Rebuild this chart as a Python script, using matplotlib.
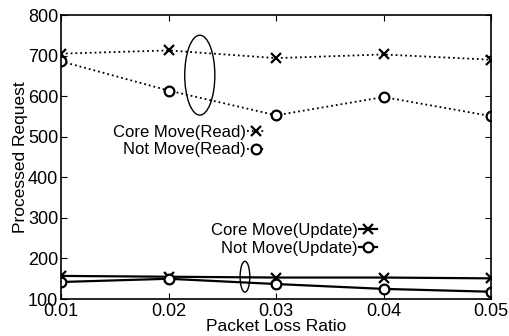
import matplotlib.pyplot as plt
from matplotlib.patches import Ellipse
from matplotlib.lines import Line2D

plt.rcParams['font.family'] = ['Liberation Sans', 'DejaVu Sans']

# data
loss_ratio = [0.01, 0.02, 0.03, 0.04, 0.05]
core_move_read = [705, 713, 694, 703, 690]
not_move_read = [686, 614, 553, 598, 551]
core_move_update = [157, 155, 153, 153, 151]
not_move_update = [142, 150, 137, 125, 118]

fig = plt.figure(figsize=(5.09, 3.36), dpi=100)
ax = fig.add_axes([0.12, 0.11, 0.845, 0.845])

ax.plot(loss_ratio, core_move_read, color='black', ls=':', lw=1.3,
        marker='x', ms=7, mew=1.6)
ax.plot(loss_ratio, not_move_read, color='black', ls=':', lw=1.3,
        marker='o', ms=7, mfc='white', mew=1.6)
ax.plot(loss_ratio, core_move_update, color='black', ls='-', lw=1.6,
        marker='x', ms=7, mew=1.6)
ax.plot(loss_ratio, not_move_update, color='black', ls='-', lw=1.6,
        marker='o', ms=7, mfc='white', mew=1.6)

# circled groups
ax.add_patch(Ellipse((0.0229, 652), 0.0028, 197, fill=False, ec='black', lw=1.0))
ax.add_patch(Ellipse((0.0271, 155), 0.0009, 76, fill=False, ec='black', lw=1.0))

# in-plot legends, label then sample
read_handles = [
    Line2D([], [], color='black', ls=':', lw=1.3, marker='x', ms=7, mew=1.6),
    Line2D([], [], color='black', ls=':', lw=1.3, marker='o', ms=7, mfc='white', mew=1.6),
]
leg1 = ax.legend(read_handles, ['Core Move(Read)', 'Not Move(Read)'],
                 loc='center right', bbox_to_anchor=(0.495, 0.556),
                 frameon=False, markerfirst=False, fontsize=12,
                 handlelength=1.1, handletextpad=0.1, borderpad=0,
                 labelspacing=0.15, numpoints=1)
ax.add_artist(leg1)

update_handles = [
    Line2D([], [], color='black', ls='-', lw=1.6, marker='x', ms=7, mew=1.6),
    Line2D([], [], color='black', ls='-', lw=1.6, marker='o', ms=7, mfc='white', mew=1.6),
]
ax.legend(update_handles, ['Core Move(Update)', 'Not Move(Update)'],
          loc='center right', bbox_to_anchor=(0.755, 0.21),
          frameon=False, markerfirst=False, fontsize=12,
          handlelength=1.1, handletextpad=0.1, borderpad=0,
          labelspacing=0.15, numpoints=1)

ax.set_xlim(0.01, 0.05)
ax.set_ylim(100, 800)
ax.set_xticks(loss_ratio)
ax.set_xticklabels(['0.01', '0.02', '0.03', '0.04', '0.05'])
ax.set_yticks(range(100, 801, 100))
ax.tick_params(direction='in', top=True, right=True, labelsize=13, length=4, pad=2)
ax.tick_params(axis='x', pad=3)
for s in ax.spines.values():
    s.set_linewidth(1.2)

ax.set_xlabel('Packet Loss Ratio', fontsize=12.5, labelpad=-1)
ax.set_ylabel('Processed Request', fontsize=12.5, labelpad=0)

plt.savefig('out.png', dpi=100)
